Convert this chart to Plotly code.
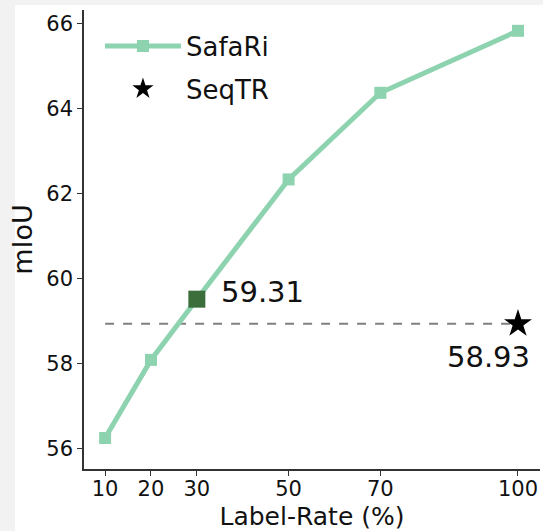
import plotly.graph_objects as go

label_rate = [10, 20, 30, 50, 70, 100]
safari_miou = [56.24, 58.08, 59.51, 62.33, 64.37, 65.83]
highlight_x = [30]
highlight_y = [59.51]
highlight_text = ["59.31"]
seqtr_x = [100]
seqtr_y = [58.93]
seqtr_text = ["58.93"]
x_ticks = [10, 20, 30, 50, 70, 100]
y_ticks = [56, 58, 60, 62, 64, 66]

FONT = "DejaVu Sans"
LINE_C = "#8dd3b0"

fig = go.Figure()
fig.add_trace(go.Scatter(
    x=[label_rate[0], seqtr_x[0]], y=[seqtr_y[0], seqtr_y[0]], mode="lines",
    line=dict(color="#808080", width=2, dash="dash"), showlegend=False, hoverinfo="skip"))
fig.add_trace(go.Scatter(
    x=label_rate, y=safari_miou, mode="lines+markers", name="SafaRi", legendgroup="a",
    line=dict(color=LINE_C, width=5), marker=dict(symbol="square", size=12, color=LINE_C)))
fig.add_trace(go.Scatter(
    x=seqtr_x, y=seqtr_y, mode="markers", name="SeqTR", legendgroup="b",
    marker=dict(symbol="star", size=21, color="black", line=dict(width=0))))
fig.add_trace(go.Scatter(
    x=highlight_x, y=highlight_y, mode="markers", showlegend=False,
    marker=dict(symbol="square", size=17, color="#3b6e3b", line=dict(width=0))))

fig.add_annotation(x=highlight_x[0], y=highlight_y[0], text=highlight_text[0], showarrow=False,
                   xanchor="left", yanchor="middle", xshift=22, yshift=7,
                   font=dict(family=FONT, size=29, color="#111"))
fig.add_annotation(x=seqtr_x[0], y=seqtr_y[0], text=seqtr_text[0], showarrow=False,
                   xanchor="right", yanchor="top", xshift=14, yshift=-14,
                   font=dict(family=FONT, size=29, color="#111"))

# light grey frame strips at the image edges
fig.add_shape(type="rect", xref="paper", yref="paper", x0=-84/456, x1=-69/456, y0=-62/459, y1=1+10/459,
              fillcolor="#f2f2f2", line=dict(width=0), layer="below")
fig.add_shape(type="rect", xref="paper", yref="paper", x0=-84/456, x1=1+3/456, y0=1+5/459, y1=1+10/459,
              fillcolor="#f2f2f2", line=dict(width=0), layer="below")

fig.update_layout(
    width=543, height=531,
    margin=dict(l=84, r=3, t=10, b=62),
    paper_bgcolor="white", plot_bgcolor="white",
    font=dict(family=FONT, size=20, color="#111"),
    showlegend=True,
    legend=dict(x=0.035, y=0.9725, xanchor="left", yanchor="top", bgcolor="rgba(0,0,0,0)",
                traceorder="grouped", tracegroupgap=6,
                font=dict(family=FONT, size=26, color="#111"), itemwidth=76),
    xaxis=dict(range=[5.4, 104.8], tickvals=x_ticks, ticktext=[str(v) for v in x_ticks],
               showgrid=False, zeroline=False, showline=True, linecolor="#333", linewidth=1.5,
               ticks="outside", ticklen=5, tickcolor="#333", tickfont=dict(size=21),
               ticklabelstandoff=-5,
               title=dict(text="Label-Rate (%)", font=dict(family=FONT, size=25), standoff=8)),
    yaxis=dict(range=[55.51, 66.32], tickvals=y_ticks, ticktext=[str(v) for v in y_ticks],
               showgrid=False, zeroline=False, showline=True, linecolor="#333", linewidth=1.5,
               ticks="outside", ticklen=5, tickcolor="#333", tickfont=dict(size=21),
               title=dict(text="mIoU", font=dict(family=FONT, size=27), standoff=6)),
)

fig.write_html("out.html", config={"displayModeBar": False},
               post_script="document.body.style.margin='0';document.body.style.overflow='hidden';")
